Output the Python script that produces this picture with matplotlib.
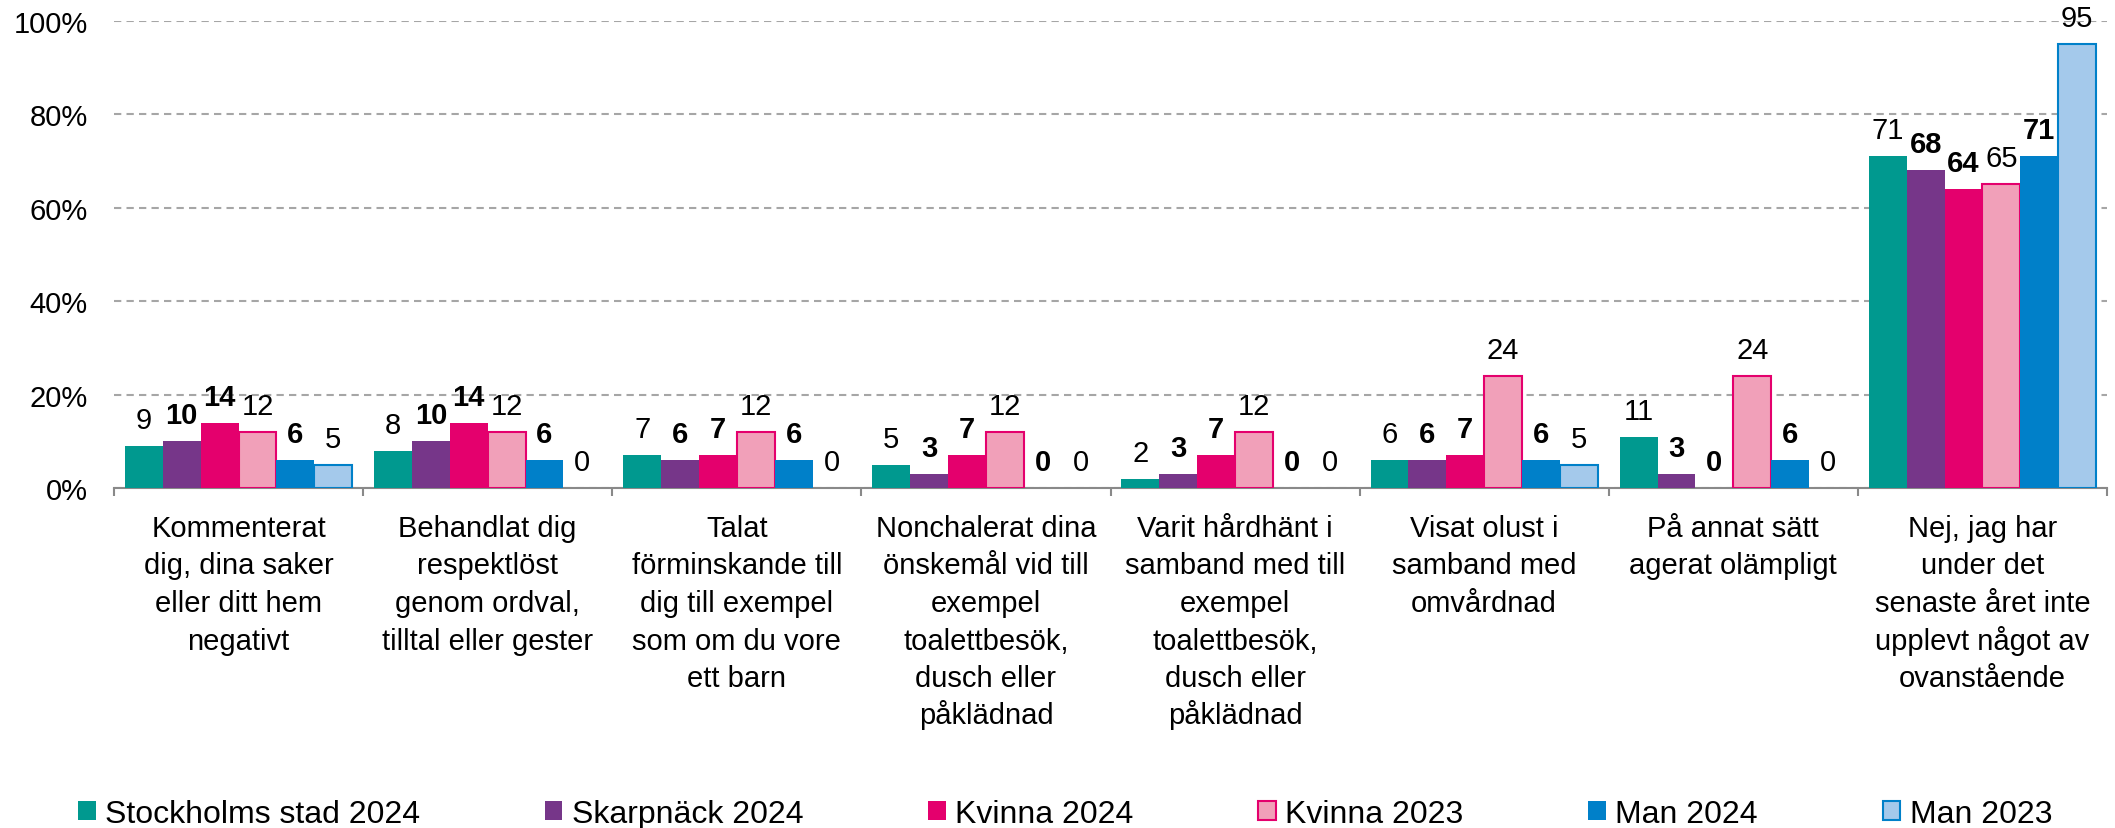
import numpy as np
import matplotlib
matplotlib.use("Agg")
import matplotlib.pyplot as plt
from matplotlib.ticker import FixedLocator, FuncFormatter

plt.rcParams['font.family'] = ['Liberation Sans', 'DejaVu Sans']

categories = [
    "Kommenterat\ndig, dina saker\neller ditt hem\nnegativt",
    "Behandlat dig\nrespektlöst\ngenom ordval,\ntilltal eller gester",
    "Talat\nförminskande till\ndig till exempel\nsom om du vore\nett barn",
    "Nonchalerat dina\nönskemål vid till\nexempel\ntoalettbesök,\ndusch eller\npåklädnad",
    "Varit hårdhänt i\nsamband med till\nexempel\ntoalettbesök,\ndusch eller\npåklädnad",
    "Visat olust i\nsamband med\nomvårdnad",
    "På annat sätt\nagerat olämpligt",
    "Nej, jag har\nunder det\nsenaste året inte\nupplevt något av\novanstående",
]

series_names = ["Stockholms stad 2024", "Skarpnäck 2024", "Kvinna 2024",
                "Kvinna 2023", "Man 2024", "Man 2023"]

stockholm_2024 = [9, 8, 7, 5, 2, 6, 11, 71]
skarpnack_2024 = [10, 10, 6, 3, 3, 6, 3, 68]
kvinna_2024 = [14, 14, 7, 7, 7, 7, 0, 64]
kvinna_2023 = [12, 12, 12, 12, 12, 24, 24, 65]
man_2024 = [6, 6, 6, 0, 0, 6, 6, 71]
man_2023 = [5, 0, 0, 0, 0, 5, 0, 95]

values = [stockholm_2024, skarpnack_2024, kvinna_2024, kvinna_2023, man_2024, man_2023]
fills = ["#00998F", "#763689", "#E4006D", "#F1A0B9", "#0080C9", "#A4C9EB"]
edges = [None, None, None, "#E4006D", None, "#0080C9"]
bold = [False, True, True, False, True, False]

fig = plt.figure(figsize=(21.15, 8.29), dpi=100)
ax = fig.add_axes([114 / 2115, 340 / 829, (2107 - 114) / 2115, (489 - 22) / 829])

x = np.arange(len(categories))
w = 0.152
for i, (vals, fc, ec, b) in enumerate(zip(values, fills, edges, bold)):
    pos = x + (i - 2.5) * w
    if ec:
        lws = [1.5 if v > 0 else 0 for v in vals]
        ax.bar(pos, vals, w, color=fc, edgecolor=ec, linewidth=lws, label=series_names[i], zorder=3)
    else:
        ax.bar(pos, vals, w, color=fc, linewidth=0, label=series_names[i], zorder=3)
    for p, v in zip(pos, vals):
        ax.annotate(str(v), (p, v), xytext=(0, 18), textcoords="offset pixels",
                    ha="center", va="baseline", fontsize=21,
                    fontweight="bold" if b else "normal", color="black", zorder=4)

ax.set_xlim(-0.5, len(categories) - 0.5)
ax.set_ylim(0, 100)
ax.set_yticks(np.arange(0, 101, 20))
ax.yaxis.set_major_formatter(FuncFormatter(lambda v, _: f"{v:.0f}%"))
ax.tick_params(axis="y", length=0, pad=19, labelsize=21)
ax.grid(axis="y", color="#A6A6A6", linewidth=1.5, linestyle=(0, (3.5, 2.5)))
ax.set_axisbelow(True)

# category labels, one line at a time so the line pitch stays even
ax.set_xticks([])
for xi, cat in zip(x, categories):
    for k, line in enumerate(cat.split("\n")):
        ax.annotate(line, (xi, 0), xytext=(0, -(48 + 37.5 * k)), textcoords="offset pixels",
                    ha="center", va="baseline", fontsize=21, annotation_clip=False)

ax.xaxis.set_minor_locator(FixedLocator(np.arange(-0.5, len(categories), 1.0)))
ax.tick_params(axis="x", which="minor", length=6, width=1.5, color="#898989")

for s in ["top", "right", "left"]:
    ax.spines[s].set_visible(False)
ax.spines["bottom"].set_color("#898989")
ax.spines["bottom"].set_linewidth(1.5)

fig.legend(loc="center left", bbox_to_anchor=(78 / 2115, 14 / 829), ncol=6,
           frameon=False, fontsize=23, handlelength=0.55, handleheight=0.55,
           handletextpad=0.3, columnspacing=3.9, borderpad=0, borderaxespad=0)

fig.savefig("out.png", dpi=100)
